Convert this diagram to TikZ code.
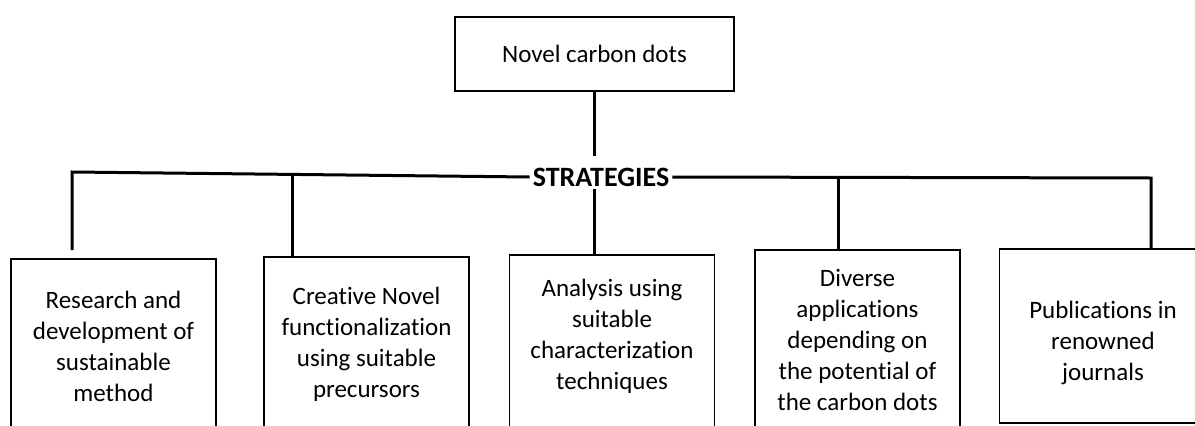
\documentclass[tikz,border=0pt]{standalone}
\usepackage{fontspec}
\setmainfont{Carlito}[Ligatures=NoCommon]
\usetikzlibrary{positioning,calc}

\tikzset{
  boxnode/.style={draw, line width=1.6pt, minimum width=205pt, minimum height=200pt, anchor=north, inner sep=0pt},
  txtnode/.style={align=center, font=\fontsize{25}{31}\selectfont, inner sep=0pt},
  conn/.style={line width=3pt},
}

\begin{document}
\begin{tikzpicture}[x=1pt, y=-1pt]
\useasboundingbox (0,0) rectangle (1195,426);
\clip (0,0) rectangle (1195,426);

% top box
\node[draw, line width=1.6pt, minimum width=279pt, minimum height=74pt, txtnode] (top) at (594.5,54) {Novel carbon dots};

% middle label
\node[font=\fontsize{28}{33}\selectfont\bfseries, inner ysep=0pt, inner xsep=3pt] (strat) at (601,177) {STRATEGIES};

% strategy boxes
\node[boxnode] (box1) at (113.5,258) {};
\node[boxnode] (box2) at (366.5,256) {};
\node[boxnode] (box3) at (612,254) {};
\node[boxnode] (box4) at (857.5,249) {};
\node[boxnode, minimum height=174pt] (box5) at (1102,248) {};

% box texts
\node[txtnode] (t1) at (113.5,346.5) {Research and\\development of\\sustainable\\method};
\node[txtnode] (t2) at (366.5,344.5) {Creative Novel\\functionalization\\using suitable\\precursors};
\node[txtnode] (t3) at (612,336.5) {Analysis using\\suitable\\characterization\\techniques};
\node[txtnode] (t4) at (857.5,340) {Diverse\\applications\\depending on\\the potential of\\the carbon dots};
\node[txtnode] (t5) at (1103,343) {Publications in\\renowned\\journals};

% connectors
\coordinate (j1) at (594,156);
\coordinate (j2) at (594,189);
\coordinate (lend) at (72,172);
\coordinate (g1) at (72,250);
\coordinate (d2) at (292,174);
\coordinate (d4) at (838,178);
\coordinate (rend) at (1151,178);

\draw[conn] (top.south -| j1) -- (j1);
\draw[conn] (j2) -- (j2 |- box3.north);
\draw[conn] (strat.west) -- (lend) -- (g1);
\draw[conn] (d2) -- (d2 |- box2.north);
\draw[conn] (strat.east) -- (rend) -- (rend |- box5.north);
\draw[conn] (d4) -- (d4 |- box4.north);

\end{tikzpicture}
\end{document}
